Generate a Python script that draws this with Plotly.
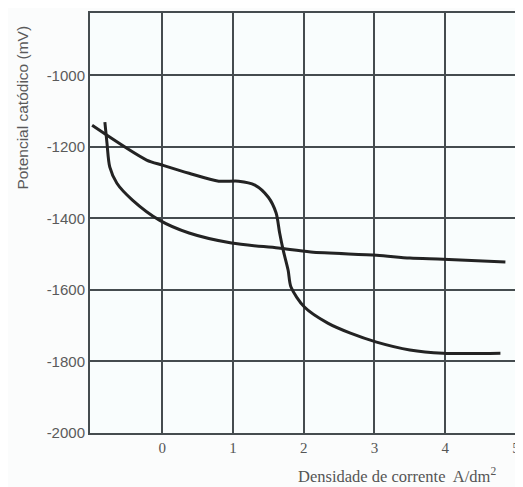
import plotly.graph_objects as go

# Curve A: plateau near -1300 mV, then drops to about -1780 mV
curve_a_x = [-0.99, -0.22, 0.0, 0.38, 0.80, 1.08, 1.31, 1.50, 1.61, 1.66, 1.71, 1.78, 1.82, 2.01, 2.34, 2.66, 3.03, 3.50, 3.97, 4.78]
curve_a_y = [-1140, -1237, -1251, -1274, -1296, -1296, -1307, -1341, -1385, -1441, -1489, -1545, -1592, -1648, -1693, -1721, -1746, -1768, -1777, -1777]

# Curve B: steep initial fall, then slowly toward about -1520 mV
curve_b_x = [-0.81, -0.78, -0.74, -0.64, -0.42, -0.04, 0.38, 0.98, 1.64, 2.10, 3.03, 3.50, 3.97, 4.85]
curve_b_y = [-1131, -1190, -1257, -1302, -1349, -1405, -1441, -1469, -1483, -1494, -1503, -1511, -1514, -1522]

x_ticks = [0, 1, 2, 3, 4, 5]
y_ticks = [-2000, -1800, -1600, -1400, -1200, -1000]

line_col = "#232323"
grid_col = "#454c4f"

fig = go.Figure()
fig.add_trace(go.Scatter(x=curve_a_x, y=curve_a_y, mode="lines",
                         line=dict(color=line_col, width=3, shape="spline", smoothing=0.8),
                         showlegend=False, hoverinfo="skip"))
fig.add_trace(go.Scatter(x=curve_b_x, y=curve_b_y, mode="lines",
                         line=dict(color=line_col, width=3, shape="spline", smoothing=0.8),
                         showlegend=False, hoverinfo="skip"))

font_serif = "Liberation Serif, Times New Roman, serif"
font_sans = "Liberation Sans, Arial, sans-serif"

# The page body has an 8px margin, so the figure is 8px smaller and margins are reduced accordingly
fig.update_layout(
    width=515, height=479,
    margin=dict(l=82, r=3, t=5, b=54),
    paper_bgcolor="#fbfcfc",
    plot_bgcolor="#f9fdfd",
    font=dict(family=font_serif, size=12, color="#555"),
    xaxis=dict(range=[-1.02, 5.0], tickvals=x_ticks, ticktext=[str(v) for v in x_ticks],
               showgrid=True, gridcolor=grid_col, gridwidth=1.5,
               showline=True, linecolor=grid_col, linewidth=2, mirror=True,
               zeroline=False, ticks="", tickfont=dict(family=font_serif, size=15, color="#555")),
    yaxis=dict(range=[-2000, -826], tickvals=y_ticks, ticktext=[str(v) for v in y_ticks],
               showgrid=True, gridcolor=grid_col, gridwidth=1.5,
               showline=True, linecolor=grid_col, linewidth=2, mirror=True,
               zeroline=False, ticks="", tickfont=dict(family=font_sans, size=15, color="#5a5a5a")),
    annotations=[
        dict(text="Potencial catódico (mV)", textangle=-90, xref="paper", yref="paper",
             x=-0.158, y=0.774, xanchor="center", yanchor="middle", showarrow=False,
             font=dict(family=font_sans, size=15.5, color="#5a5a5a")),
        dict(text="Densidade de corrente  A/dm<sup>2</sup>", xref="paper", yref="paper",
             x=0.484, y=-0.102, xanchor="left", yanchor="middle", showarrow=False,
             font=dict(family=font_serif, size=16.5, color="#555")),
    ],
)

fig.write_html("out.html")
